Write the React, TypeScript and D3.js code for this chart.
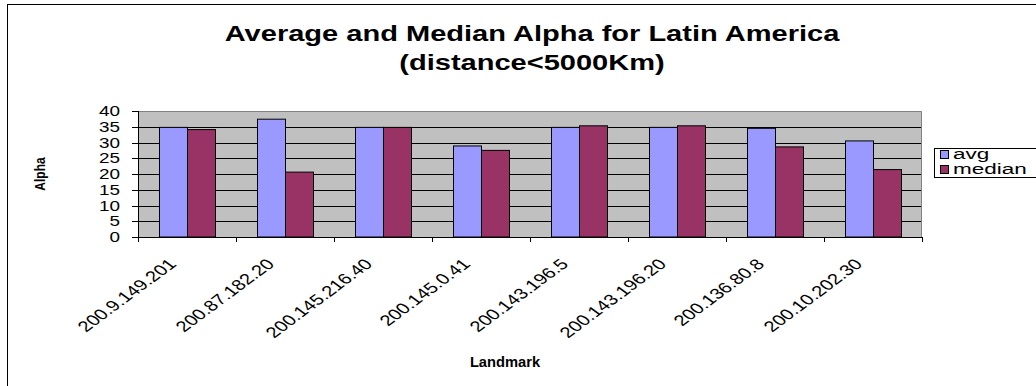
import React from "react";
import * as d3 from "d3";

// Landmark hosts and their alpha statistics
const categories = [
  "200.9.149.201",
  "200.87.182.20",
  "200.145.216.40",
  "200.145.0.41",
  "200.143.196.5",
  "200.143.196.20",
  "200.136.80.8",
  "200.10.202.30",
];
const avgValues = [34.8, 37.4, 34.8, 28.9, 34.8, 34.8, 34.5, 30.5];
const medianValues = [34.1, 20.6, 34.8, 27.5, 35.3, 35.3, 28.6, 21.4];
const seriesNames = ["avg", "median"];
const seriesColors = ["#9999FF", "#993366"];
const yTicks = [0, 5, 10, 15, 20, 25, 30, 35, 40];

const titleLines = ["Average and Median Alpha for Latin America", "(distance<5000Km)"];
const xTitle = "Landmark";
const yTitle = "Alpha";

const W = 1036;
const H = 386;
const FONT = "'Liberation Sans', Arial, Helvetica, sans-serif";
const SX = 1.35; // horizontal text stretch

type TProps = {
  x: number;
  y: number;
  sx?: number;
  rot?: number;
  size: number;
  bold?: boolean;
  anchor?: "start" | "middle" | "end";
  children: React.ReactNode;
};

function SText({ x, y, sx = SX, rot = 0, size, bold, anchor = "start", children }: TProps) {
  return (
    <text
      transform={`translate(${x},${y}) scale(${sx},1) rotate(${rot})`}
      fontFamily={FONT}
      fontSize={size}
      fontWeight={bold ? "bold" : "normal"}
      textAnchor={anchor}
      fill="#000"
    >
      {children}
    </text>
  );
}

export default function App() {
  const plotLeft = 138;
  const plotRight = 922;
  const plotTop = 111;
  const plotBottom = 237;

  const x = d3.scaleBand<string>().domain(categories).range([plotLeft, plotRight]).paddingInner(0).paddingOuter(0);
  const inner = d3
    .scaleBand<string>()
    .domain(seriesNames)
    .range([0, x.bandwidth()])
    .paddingInner(0)
    .paddingOuter(0.75);
  const y = d3.scaleLinear().domain([0, 40]).range([plotBottom, plotTop]);

  const series = [avgValues, medianValues];
  const boundaries = d3.range(categories.length + 1).map((i) => plotLeft + i * x.step());

  return (
    <svg
      width={W}
      height={H}
      style={{ position: "absolute", left: 0, top: 0, background: "#fff" }}
    >
      {/* chart frame */}
      <rect x={7.5} y={4.5} width={W + 20} height={H + 20} fill="#fff" stroke="#000" strokeWidth={1} />

      {/* title */}
      {titleLines.map((t, i) => (
        <SText key={t} x={532} y={41 + i * 29} size={22} sx={1.32} bold anchor="middle">
          {t}
        </SText>
      ))}

      {/* plot area */}
      <rect x={plotLeft} y={plotTop} width={plotRight - plotLeft} height={plotBottom - plotTop} fill="#C0C0C0" />

      {/* gridlines */}
      {yTicks
        .filter((t) => t > 0 && t < 40)
        .map((t) => (
          <line
            key={"g" + t}
            x1={plotLeft}
            x2={plotRight}
            y1={Math.round(y(t)) + 0.5}
            y2={Math.round(y(t)) + 0.5}
            stroke="#000"
            strokeWidth={1}
          />
        ))}
      {/* plot border (top / right) */}
      <path
        d={`M${plotLeft},${plotTop + 0.5}H${plotRight - 0.5}V${plotBottom}`}
        fill="none"
        stroke="#808080"
        strokeWidth={1}
      />

      {/* bars */}
      {series.map((vals, si) =>
        categories.map((c, ci) => {
          const bx = (x(c) as number) + (inner(seriesNames[si]) as number);
          const by = y(vals[ci]);
          return (
            <rect
              key={si + "-" + ci}
              x={Math.round(bx) + 0.5}
              y={by}
              width={inner.bandwidth()}
              height={plotBottom - by}
              fill={seriesColors[si]}
              stroke="#000"
              strokeWidth={1}
            />
          );
        })
      )}

      {/* y axis */}
      <line x1={plotLeft + 0.5} x2={plotLeft + 0.5} y1={plotTop} y2={plotBottom} stroke="#000" />
      {yTicks.map((t) => (
        <g key={"yt" + t}>
          <line
            x1={plotLeft - 6}
            x2={plotLeft}
            y1={Math.round(y(t)) + 0.5}
            y2={Math.round(y(t)) + 0.5}
            stroke="#000"
          />
          <SText x={120} y={y(t) + 5} size={14} anchor="end">
            {String(t)}
          </SText>
        </g>
      ))}

      {/* x axis */}
      <line x1={plotLeft} x2={plotRight} y1={plotBottom + 0.5} y2={plotBottom + 0.5} stroke="#000" />
      {boundaries.map((bx, i) => (
        <line key={"xt" + i} x1={Math.round(bx) + 0.5} x2={Math.round(bx) + 0.5} y1={plotBottom} y2={plotBottom + 5} stroke="#000" />
      ))}
      {categories.map((c) => {
        const cx = (x(c) as number) + x.bandwidth() / 2;
        return (
          <SText key={"xl" + c} x={cx - 9.6} y={plotBottom + 28} size={15} rot={-45} anchor="end">
            {c}
          </SText>
        );
      })}

      {/* axis titles */}
      <SText x={505} y={367} size={14} sx={1.05} bold anchor="middle">
        {xTitle}
      </SText>
      <SText x={45} y={174} size={12} sx={1.25} bold rot={-90} anchor="middle">
        {yTitle}
      </SText>

      {/* legend */}
      <rect x={934.5} y={148.5} width={140} height={29} fill="#fff" stroke="#000" />
      {seriesNames.map((n, i) => (
        <g key={"lg" + n}>
          <rect x={940.5} y={150.5 + i * 15} width={8} height={8} fill={seriesColors[i]} stroke="#000" />
          <SText x={953} y={159 + i * 15} size={15} sx={1.5} anchor="start">
            {n}
          </SText>
        </g>
      ))}
    </svg>
  );
}
